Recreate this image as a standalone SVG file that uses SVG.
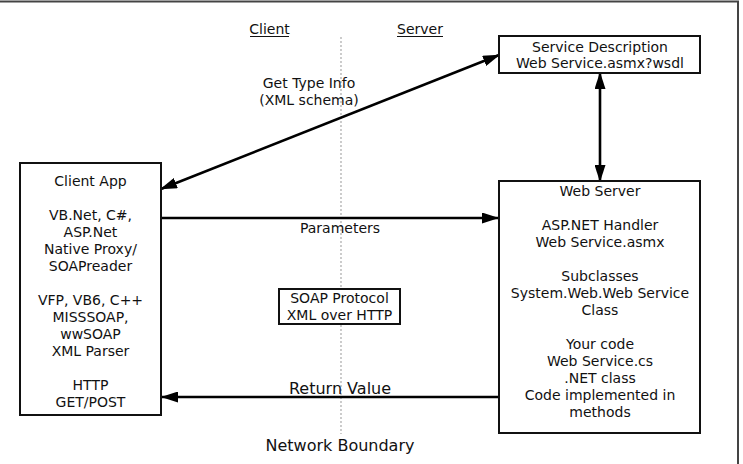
<svg xmlns="http://www.w3.org/2000/svg" width="743" height="464" viewBox="0 0 743 464">
<defs>
<style>
text{font-family:"DejaVu Sans",Verdana,sans-serif;font-size:14px;fill:#111;text-anchor:middle}
.big{font-size:16px}
.box{fill:#fff;stroke:#111;stroke-width:2}
.conn{stroke:#000;stroke-width:2.6;fill:none}
</style>
<marker id="ah" viewBox="0 0 17 11" refX="16" refY="5.5" markerWidth="17" markerHeight="11" markerUnits="userSpaceOnUse" orient="auto-start-reverse">
<path d="M0,0 L17,5.5 L0,11 Z" fill="#000"/>
</marker>
</defs>
<rect width="743" height="464" fill="#fff"/>
<g id="frame" stroke="#444" stroke-width="2" fill="none">
<line x1="0" y1="1.5" x2="739" y2="1.5"/>
<line x1="738" y1="1" x2="738" y2="464"/>
</g>
<g id="boundary">
<line x1="341" y1="37" x2="341" y2="434" stroke="#aaa" stroke-width="1.2" stroke-dasharray="2,2"/>
<text x="269.5" y="34">Client</text>
<line x1="250" y1="36.5" x2="289" y2="36.5" stroke="#111" stroke-width="1"/>
<text x="420" y="34">Server</text>
<line x1="397" y1="36.5" x2="443" y2="36.5" stroke="#111" stroke-width="1"/>
<text class="big" x="340" y="451">Network Boundary</text>
</g>
<g id="connectors">
<line class="conn" x1="161" y1="189" x2="499" y2="55" marker-start="url(#ah)" marker-end="url(#ah)"/>
<line class="conn" x1="600" y1="73" x2="600" y2="181" marker-start="url(#ah)" marker-end="url(#ah)"/>
<line class="conn" x1="161" y1="218" x2="498" y2="218" marker-end="url(#ah)"/>
<line class="conn" x1="499" y1="397" x2="162" y2="397" marker-end="url(#ah)"/>
<text x="309" y="88">Get Type Info</text>
<text x="309" y="105">(XML schema)</text>
<text x="340" y="233">Parameters</text>
<text class="big" x="340" y="394">Return Value</text>
</g>
<g id="service-description">
<rect class="box" x="499" y="36" width="201" height="37"/>
<text x="600" y="52">Service Description</text>
<text x="600" y="68">Web Service.asmx?wsdl</text>
</g>
<g id="client-app">
<rect class="box" x="20" y="163" width="141" height="252"/>
<text x="90.5" y="186">Client App</text>
<text x="90.5" y="220">VB.Net, C#,</text>
<text x="90.5" y="237">ASP.Net</text>
<text x="90.5" y="254">Native Proxy/</text>
<text x="90.5" y="271">SOAPreader</text>
<text x="90.5" y="305">VFP, VB6, C++</text>
<text x="90.5" y="322">MISSSOAP,</text>
<text x="90.5" y="339">wwSOAP</text>
<text x="90.5" y="356">XML Parser</text>
<text x="90.5" y="390">HTTP</text>
<text x="90.5" y="407">GET/POST</text>
</g>
<g id="soap-protocol">
<rect class="box" x="279" y="289" width="121" height="35"/>
<text x="339.5" y="303">SOAP Protocol</text>
<text x="339.5" y="320">XML over HTTP</text>
</g>
<g id="web-server">
<rect class="box" x="499" y="181" width="201" height="252"/>
<text x="600" y="196">Web Server</text>
<text x="600" y="230">ASP.NET Handler</text>
<text x="600" y="247">Web Service.asmx</text>
<text x="600" y="281">Subclasses</text>
<text x="600" y="298">System.Web.Web Service</text>
<text x="600" y="315">Class</text>
<text x="600" y="349">Your code</text>
<text x="600" y="366">Web Service.cs</text>
<text x="600" y="383">.NET class</text>
<text x="600" y="400">Code implemented in</text>
<text x="600" y="417">methods</text>
</g>
</svg>
